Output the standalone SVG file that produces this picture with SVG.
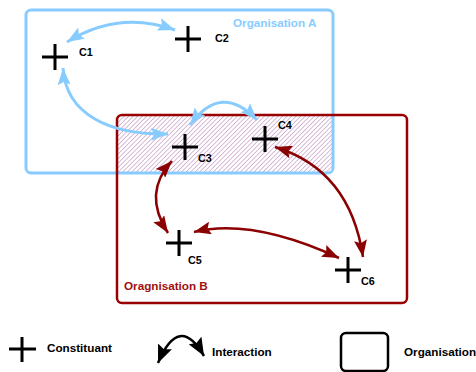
<svg xmlns="http://www.w3.org/2000/svg" width="476" height="372" viewBox="0 0 476 372">
  <style>
    .cross { stroke: #000; stroke-width: 3; fill: none; }
    .lbl { font-family: "Liberation Sans", Arial, sans-serif; font-size: 10.8px; font-weight: bold; fill: #000; }
    .org { font-family: "Liberation Sans", Arial, sans-serif; font-size: 11.7px; font-weight: bold; }
    .blue { stroke: #88ccff; stroke-width: 3; fill: none; marker-start: url(#ab); marker-end: url(#ab); }
    .red { stroke: #8b0000; stroke-width: 2.5; fill: none; marker-start: url(#ar); marker-end: url(#ar); }
    .blk { stroke: #000; stroke-width: 2.5; fill: none; marker-start: url(#ak); marker-end: url(#ak); }
  </style>
  <defs>
    <pattern id="hatch" width="3.2" height="3.2" patternUnits="userSpaceOnUse" patternTransform="rotate(45)">
      <rect width="3.2" height="3.2" fill="#ffffff"/>
      <line x1="0" y1="0" x2="0" y2="3.2" stroke="#a86aa8" stroke-width="0.9"/>
    </pattern>
    <marker id="ab" viewBox="0 0 17 13" refX="17" refY="6.5" markerWidth="17" markerHeight="13" markerUnits="userSpaceOnUse" orient="auto-start-reverse">
      <path d="M0,0 L17,6.5 L0,13 L3,6.5 z" fill="#88ccff"/>
    </marker>
    <marker id="ar" viewBox="0 0 17 13" refX="17" refY="6.5" markerWidth="17" markerHeight="13" markerUnits="userSpaceOnUse" orient="auto-start-reverse">
      <path d="M0,0 L17,6.5 L0,13 L3,6.5 z" fill="#8b0000"/>
    </marker>
    <marker id="ak" viewBox="0 0 18 15" refX="18" refY="7.5" markerWidth="18" markerHeight="15" markerUnits="userSpaceOnUse" orient="auto-start-reverse">
      <path d="M0,0 L18,7.5 L0,15 L3,7.5 z" fill="#000"/>
    </marker>
  </defs>

  <rect width="476" height="372" fill="#ffffff"/>

  <!-- overlap hatching -->
  <rect x="117" y="115" width="216" height="58" fill="url(#hatch)"/>

  <g id="orgA">
    <rect x="26" y="10" width="307" height="163" rx="5" fill="none" stroke="#88ccff" stroke-width="3"/>
    <text class="org" x="233" y="27" fill="#88ccff">Organisation A</text>
  </g>

  <g id="orgB">
    <rect x="117" y="115" width="290" height="188" rx="5" fill="none" stroke="#990000" stroke-width="2.5"/>
    <text class="org" x="124" y="290" fill="#a01010">Oragnisation B</text>
  </g>

  <g id="connectors">
    <path class="blue" d="M67,42 Q119,10 175,30"/>
    <path class="blue" d="M63,68 C66,115 110,135 168,134"/>
    <path class="blue" d="M190,125 Q221,82 257,120"/>
    <path class="red" d="M172,161 Q142,193 168,233"/>
    <path class="red" d="M275,147 Q350,170 363,257"/>
    <path class="red" d="M194,232 Q252,218 339,258"/>
  </g>

  <g id="C1">
    <path class="cross" d="M42,57 H68 M55,44 V70"/>
    <text class="lbl" x="79" y="56">C1</text>
  </g>
  <g id="C2">
    <path class="cross" d="M175,39 H201 M188,26 V52"/>
    <text class="lbl" x="215" y="42">C2</text>
  </g>
  <g id="C3">
    <path class="cross" d="M172,147 H198 M185,134 V160"/>
    <text class="lbl" x="198" y="162">C3</text>
  </g>
  <g id="C4">
    <path class="cross" d="M252,139 H278 M265,126 V152"/>
    <text class="lbl" x="278" y="129">C4</text>
  </g>
  <g id="C5">
    <path class="cross" d="M166,243 H192 M179,230 V256"/>
    <text class="lbl" x="188" y="264">C5</text>
  </g>
  <g id="C6">
    <path class="cross" d="M335,270 H361 M348,257 V283"/>
    <text class="lbl" x="361" y="285">C6</text>
  </g>

  <g id="legend">
    <path class="cross" d="M9,349 H36 M22,337 V362"/>
    <text class="org" x="47" y="352" fill="#000">Constituant</text>
    <path class="blk" d="M158,363 Q179,313 204,356"/>
    <text class="org" x="212" y="356" fill="#000">Interaction</text>
    <rect x="341" y="333" width="47" height="38" rx="5" fill="none" stroke="#000" stroke-width="2.5"/>
    <text class="org" x="404" y="356" fill="#000">Organisation</text>
  </g>
</svg>
